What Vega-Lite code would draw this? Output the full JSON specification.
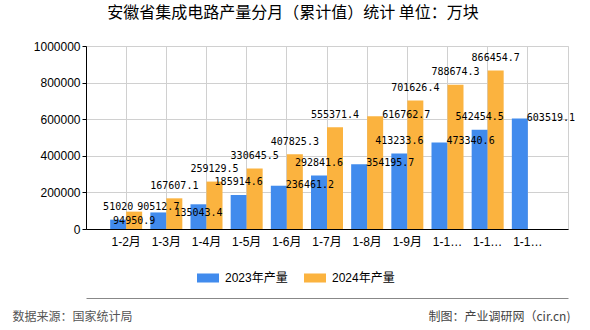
{
  "$schema": "https://vega.github.io/schema/vega-lite/v6.json",
  "width": 482,
  "height": 183,
  "autosize": {"type": "none"},
  "padding": {"left": 86, "top": 46, "right": 22, "bottom": 101},
  "background": "#ffffff",
  "title": {
    "text": "安徽省集成电路产量分月（累计值）统计 单位：万块",
    "anchor": "middle",
    "frame": "group",
    "dx": -34,
    "offset": 19,
    "fontSize": 16,
    "fontWeight": "normal",
    "font": "Noto Sans CJK SC",
    "color": "#000000"
  },
  "data": {
    "values": [
      {"month": "1-2月", "series": "2023年产量", "value": 51020},
      {"month": "1-3月", "series": "2023年产量", "value": 90512.7},
      {"month": "1-4月", "series": "2023年产量", "value": 135043.4},
      {"month": "1-5月", "series": "2023年产量", "value": 185914.6},
      {"month": "1-6月", "series": "2023年产量", "value": 236461.2},
      {"month": "1-7月", "series": "2023年产量", "value": 292841.6},
      {"month": "1-8月", "series": "2023年产量", "value": 354195.7},
      {"month": "1-9月", "series": "2023年产量", "value": 413233.6},
      {"month": "1-10月", "series": "2023年产量", "value": 473340.6},
      {"month": "1-11月", "series": "2023年产量", "value": 542454.5},
      {"month": "1-12月", "series": "2023年产量", "value": 603519.1},
      {"month": "1-2月", "series": "2024年产量", "value": 94950.9},
      {"month": "1-3月", "series": "2024年产量", "value": 167607.1},
      {"month": "1-4月", "series": "2024年产量", "value": 259129.5},
      {"month": "1-5月", "series": "2024年产量", "value": 330645.5},
      {"month": "1-6月", "series": "2024年产量", "value": 407825.3},
      {"month": "1-7月", "series": "2024年产量", "value": 555371.4},
      {"month": "1-8月", "series": "2024年产量", "value": 616762.7},
      {"month": "1-9月", "series": "2024年产量", "value": 701626.4},
      {"month": "1-10月", "series": "2024年产量", "value": 788674.3},
      {"month": "1-11月", "series": "2024年产量", "value": 866454.7}
    ]
  },
  "resolve": {"axis": {"x": "independent"}},
  "layer": [
    {
      "mark": {"type": "bar"},
      "encoding": {
        "x": {
          "field": "month", "type": "nominal", "sort": null,
          "scale": {"paddingInner": 0, "paddingOuter": 0.5},
          "axis": {
            "title": null, "labelAngle": 0, "ticks": false, "grid": true, "bandPosition": 0.5,
            "gridColor": "#d0d0d0", "gridOpacity": 1, "gridWidth": 1, "domainColor": "#000000", "domainOpacity": 1, "labelColor": "#000000",
            "labelFont": "Liberation Sans, Noto Sans CJK SC", "labelFontSize": 12, "labelPadding": 7,
            "labelLimit": 32
          }
        },
        "xOffset": {
          "field": "series", "type": "nominal",
          "scale": {"paddingInner": 0, "paddingOuter": 0.255}
        },
        "y": {
          "field": "value", "type": "quantitative",
          "scale": {"domain": [0, 1000000], "nice": false},
          "axis": {
            "values": [0, 200000, 400000, 600000, 800000, 1000000], "tickCount": 6, "labelOverlap": false,
            "format": "d", "grid": true, "gridColor": "#d0d0d0", "gridOpacity": 1, "gridWidth": 1,
            "domainColor": "#000000", "tickColor": "#000000", "tickSize": 4, "labelPadding": 2,
            "labelColor": "#000000", "labelFont": "Liberation Sans", "labelFontSize": 12,
            "title": "制图：产业调研网（cir.cn)", "titleAngle": 0, "titleX": 484, "titleY": 270,
            "titleAlign": "right", "titleBaseline": "middle", "titleFontSize": 12,
            "titleFontWeight": "normal", "titleColor": "#444444", "titleFont": "Noto Sans CJK SC"
          }
        },
        "color": {
          "field": "series", "type": "nominal",
          "scale": {"domain": ["2023年产量", "2024年产量"], "range": ["#418BED", "#FBB33F"]},
          "legend": {
            "orient": "none", "legendX": 111, "legendY": 221, "direction": "horizontal",
            "title": null, "symbolType": "M-1,-0.41L1,-0.41L1,0.41L-1,0.41Z", "symbolSize": 484,
            "symbolStrokeWidth": 0, "symbolOpacity": 1, "labelFontSize": 12,
            "labelFont": "Liberation Sans, Noto Sans CJK SC", "labelColor": "#000000",
            "labelOffset": 6, "columnPadding": 16, "padding": 0, "labelLimit": 120
          }
        }
      }
    },
    {
      "transform": [{"filter": "indexof(['2023年产量|1-6月','2023年产量|1-8月','2023年产量|1-10月','2023年产量|1-12月','2024年产量|1-8月','2024年产量|1-2月','2023年产量|1-4月','2023年产量|1-3月'], datum.series + '|' + datum.month) < 0"}],
      "mark": {"type": "text", "font": "DejaVu Sans Mono", "fontSize": 10, "baseline": "middle", "align": "center", "dy": -12.5, "color": "#000000"},
      "encoding": {
        "x": {"field": "month", "type": "nominal", "sort": null, "axis": null},
        "xOffset": {"field": "series", "type": "nominal"},
        "y": {"field": "value", "type": "quantitative"},
        "text": {"field": "value", "type": "nominal"}
      }
    },
    {
      "transform": [{"filter": "indexof(['2023年产量|1-6月','2023年产量|1-8月','2023年产量|1-10月','2023年产量|1-12月','2024年产量|1-8月'], datum.series + '|' + datum.month) >= 0"}],
      "mark": {"type": "text", "font": "DejaVu Sans Mono", "fontSize": 10, "baseline": "middle", "align": "left", "dx": 7, "dy": -1, "color": "#000000"},
      "encoding": {
        "x": {"field": "month", "type": "nominal", "sort": null, "axis": null},
        "xOffset": {"field": "series", "type": "nominal"},
        "y": {"field": "value", "type": "quantitative"},
        "text": {"field": "value", "type": "nominal"}
      }
    },
    {
      "transform": [{"filter": "indexof(['2024年产量|1-2月','2023年产量|1-4月'], datum.series + '|' + datum.month) >= 0"}],
      "mark": {"type": "text", "font": "DejaVu Sans Mono", "fontSize": 10, "baseline": "middle", "align": "center", "dy": 9, "color": "#000000"},
      "encoding": {
        "x": {"field": "month", "type": "nominal", "sort": null, "axis": null},
        "xOffset": {"field": "series", "type": "nominal"},
        "y": {"field": "value", "type": "quantitative"},
        "text": {"field": "value", "type": "nominal"}
      }
    },
    {
      "transform": [{"filter": "datum.series == '2023年产量' && datum.month == '1-3月'"}],
      "mark": {"type": "text", "font": "DejaVu Sans Mono", "fontSize": 10, "baseline": "middle", "align": "center", "dy": -5, "color": "#000000"},
      "encoding": {
        "x": {"field": "month", "type": "nominal", "sort": null, "axis": null},
        "xOffset": {"field": "series", "type": "nominal"},
        "y": {"field": "value", "type": "quantitative"},
        "text": {"field": "value", "type": "nominal"}
      }
    },
    {
      "mark": {"type": "point", "opacity": 0},
      "encoding": {
        "x": {
          "field": "month", "type": "nominal", "sort": null,
          "axis": {
            "orient": "bottom", "offset": 69, "domainColor": "#888888", "domainWidth": 1, "domainOpacity": 1,
            "labels": false, "ticks": false, "grid": false,
            "title": "数据来源：国家统计局", "titleX": -74, "titleY": 18, "titleAlign": "left",
            "titleBaseline": "middle", "titleFontSize": 12, "titleFontWeight": "normal",
            "titleColor": "#555555", "titleFont": "Noto Sans CJK SC"
          }
        }
      }
    }
  ],
  "config": {
    "view": {"stroke": "#d0d0d0", "strokeWidth": 1, "strokeOpacity": 1}
  }
}
